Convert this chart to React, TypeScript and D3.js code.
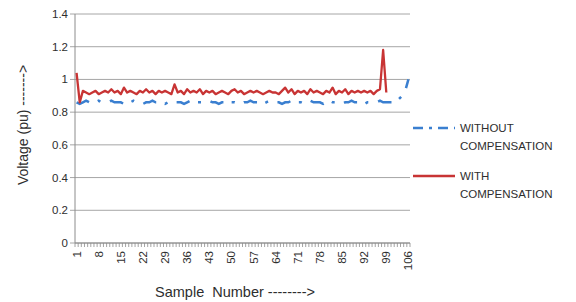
import * as d3 from "d3";

const samples = d3.range(1, 107);
const xTickLabels = [1, 8, 15, 22, 29, 36, 43, 50, 57, 64, 71, 78, 85, 92, 99, 106];
const yTicks = [0, 0.2, 0.4, 0.6, 0.8, 1, 1.2, 1.4];

const withoutComp = [
  0.86, 0.85, 0.86, 0.87, 0.86, 0.86, 0.86, 0.87, 0.86, 0.86,
  0.86, 0.87, 0.86, 0.86, 0.86, 0.85, 0.86, 0.86, 0.87, 0.86,
  0.86, 0.85, 0.86, 0.86, 0.87, 0.86, 0.86, 0.86, 0.85, 0.86,
  0.87, 0.86, 0.86, 0.86, 0.85, 0.86, 0.87, 0.86, 0.86, 0.86,
  0.86, 0.87, 0.87, 0.86, 0.86, 0.85, 0.86, 0.86, 0.87, 0.86,
  0.86, 0.85, 0.85, 0.86, 0.86, 0.87, 0.86, 0.86, 0.86, 0.85,
  0.86, 0.87, 0.86, 0.86, 0.86, 0.85, 0.86, 0.86, 0.87, 0.86,
  0.86, 0.86, 0.85, 0.86, 0.87, 0.86, 0.86, 0.86, 0.85, 0.86,
  0.87, 0.86, 0.86, 0.86, 0.85, 0.86, 0.86, 0.87, 0.86, 0.86,
  0.86, 0.85, 0.86, 0.86, 0.86, 0.86, 0.87, 0.86, 0.86, 0.86,
  0.86, 0.86, 0.88, 0.9, 0.93, 1.0,
];

const withComp = [
  1.04, 0.86, 0.93, 0.92, 0.91, 0.92, 0.93, 0.91, 0.92, 0.93,
  0.92, 0.94, 0.92, 0.93, 0.91, 0.95, 0.92, 0.93, 0.92, 0.91,
  0.93, 0.92, 0.94, 0.92, 0.93, 0.91, 0.93, 0.92, 0.93, 0.92,
  0.91, 0.97, 0.92, 0.93, 0.91, 0.94, 0.92, 0.93, 0.92, 0.94,
  0.91, 0.93, 0.92, 0.93, 0.91, 0.92, 0.93, 0.92, 0.91, 0.93,
  0.94, 0.92, 0.93, 0.91, 0.92, 0.93, 0.92, 0.93, 0.92, 0.91,
  0.92, 0.93, 0.92, 0.92, 0.91, 0.93, 0.95, 0.92, 0.94, 0.91,
  0.93, 0.92, 0.93, 0.91, 0.94, 0.92, 0.93, 0.92, 0.91, 0.93,
  0.92, 0.95, 0.91, 0.93, 0.92, 0.94, 0.91, 0.93, 0.92, 0.93,
  0.92, 0.93, 0.92, 0.93, 0.91, 0.93, 0.94, 1.18, 0.92,
];

const FONT = "'Liberation Sans', Arial, sans-serif";
const TEXT = "#2e2e2e";
const BLUE = "#3a7fd0";
const RED = "#c83434";

export default function App() {
  const left = 75;
  const right = 410;
  const top = 14;
  const bottom = 243;

  const x = d3.scaleBand<number>().domain(samples).range([left, right]).padding(0);
  const y = d3.scaleLinear().domain([0, 1.4]).range([bottom, top]);
  const cx = (s: number) => (x(s) ?? 0) + x.bandwidth() / 2;

  const line = d3
    .line<number>()
    .x((_, i) => cx(samples[i]))
    .y(d => y(d));

  return (
    <svg
      width={576}
      height={302}
      style={{ position: "fixed", left: 0, top: 0, display: "block", background: "#fff" }}
      fontFamily={FONT}
    >
      {/* gridlines + y ticks */}
      {yTicks.map(t => (
        <g key={t}>
          <line x1={left - 5} x2={right} y1={y(t)} y2={y(t)} stroke="#a6a6a6" strokeWidth={1} />
          <text x={68} y={y(t)} dy="0.35em" textAnchor="end" fontSize={11.5} fill={TEXT}>
            {t}
          </text>
        </g>
      ))}

      {/* axes */}
      <line x1={left} x2={left} y1={top} y2={bottom} stroke="#8c8c8c" />
      <line x1={left} x2={right} y1={bottom} y2={bottom} stroke="#8c8c8c" />
      {samples.concat([107]).map(s => {
        const px = s === 107 ? right : x(s) ?? 0;
        return <line key={s} x1={px} x2={px} y1={bottom} y2={bottom + 4} stroke="#8c8c8c" strokeWidth={0.8} />;
      })}

      {/* x tick labels */}
      {xTickLabels.map(s => (
        <text
          key={s}
          transform={`translate(${cx(s)},${bottom + 8}) rotate(-90)`}
          textAnchor="end"
          dy="0.35em"
          fontSize={11.5}
          fill={TEXT}
        >
          {s}
        </text>
      ))}

      {/* series */}
      <path
        d={line(withoutComp) ?? ""}
        fill="none"
        stroke={BLUE}
        strokeWidth={2.5}
        strokeDasharray="14,9,3,10"
      />
      <path d={line(withComp) ?? ""} fill="none" stroke={RED} strokeWidth={2.3} strokeLinejoin="round" />

      {/* axis titles */}
      <text
        transform={`translate(28,125) rotate(-90)`}
        textAnchor="middle"
        fontSize={14}
        fill={TEXT}
      >
        Voltage (pu) -------&gt;
      </text>
      <text x={235} y={297} textAnchor="middle" fontSize={14.5} fill={TEXT} xmlSpace="preserve">
        Sample  Number --------&gt;
      </text>

      {/* legend */}
      <line x1={413} x2={455} y1={128} y2={128} stroke={BLUE} strokeWidth={2.5} strokeDasharray="10,6,3,6" />
      <text x={460} y={132} fontSize={11.5} fill={TEXT}>WITHOUT</text>
      <text x={460} y={150} fontSize={11.5} fill={TEXT}>COMPENSATION</text>
      <line x1={413} x2={455} y1={176} y2={176} stroke={RED} strokeWidth={2.3} />
      <text x={460} y={180} fontSize={11.5} fill={TEXT}>WITH</text>
      <text x={460} y={198} fontSize={11.5} fill={TEXT}>COMPENSATION</text>
    </svg>
  );
}
